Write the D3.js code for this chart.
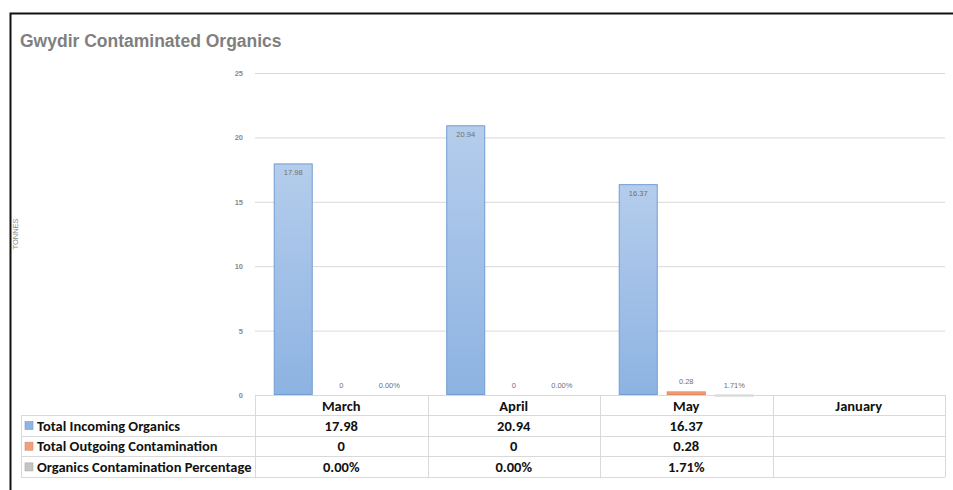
<!DOCTYPE html>
<html>
  <head>
    <meta charset="utf-8">
    <title>Gwydir Contaminated Organics</title>
    <script src="https://d3js.org/d3.v7.min.js"></script>
    <style>
      body { margin: 0; background: #fff; }
      svg { display: block; }
    </style>
  </head>
  <body>
    <script>
      // ==================
      // Data
      // ==================
      const categories = ["March", "April", "May", "January"];
      const seriesNames = ["Total Incoming Organics", "Total Outgoing Contamination", "Organics Contamination Percentage"];
      const incoming = [17.98, 20.94, 16.37, null];
      const outgoing = [0, 0, 0.28, null];
      const percentage = [0.0000, 0.0000, 0.0171, null];
      const yTicks = [0, 5, 10, 15, 20, 25];

      const width = 953;
      const height = 490;
      const plotLeft = 255;
      const plotRight = 945;
      const plotTop = 73;
      const plotBottom = 395;

      const fmtNum = function(v) { return v === 0 ? "0" : d3.format(".2f")(v); };
      const fmtPct = d3.format(".2%");

      const series = [
        {name: seriesNames[0], values: incoming, fmt: fmtNum, fill: "url(#gradBlue)", stroke: "#729dd3", key: "#8db4e2"},
        {name: seriesNames[1], values: outgoing, fmt: fmtNum, fill: "url(#gradOrange)", stroke: "#e8875a", key: "#f2a07a"},
        {name: seriesNames[2], values: percentage, fmt: fmtPct, fill: "#b3b3b3", stroke: "#999999", key: "#c4c4c4"}
      ];

      const svg = d3.select("body")
        .append("svg")
          .attr("width", width)
          .attr("height", height);

      const defs = svg.append("defs");
      function gradient(id, top, bottom) {
        const g = defs.append("linearGradient")
          .attr("id", id)
          .attr("x1", 0).attr("y1", 0).attr("x2", 0).attr("y2", 1);
        g.append("stop").attr("offset", "0%").attr("stop-color", top);
        g.append("stop").attr("offset", "100%").attr("stop-color", bottom);
      }
      gradient("gradBlue", "#b5cdec", "#8db3e2");
      gradient("gradOrange", "#f6b08f", "#ee8c60");

      // frame
      svg.append("path")
        .attr("d", "M10.5,490 V13.5 H953")
        .attr("fill", "none")
        .attr("stroke", "#111")
        .attr("stroke-width", 2);

      // title
      svg.append("text")
        .attr("x", 20)
        .attr("y", 47)
        .attr("font-family", "Liberation Sans, Arial, sans-serif")
        .attr("font-weight", "bold")
        .attr("font-size", 17.5)
        .attr("fill", "#7f7f7f")
        .text("Gwydir Contaminated Organics");

      // y axis title
      svg.append("text")
        .attr("transform", "translate(18,234) rotate(-90)")
        .attr("text-anchor", "middle")
        .attr("font-family", "Liberation Sans, Arial, sans-serif")
        .attr("font-size", 7.5)
        .attr("fill", "#8c8c8c")
        .text("TONNES");

      // ==================
      // Scales and axes
      // ==================
      const xScale = d3.scaleBand()
        .domain(categories)
        .range([plotLeft, plotRight])
        .padding(0);

      const xSub = d3.scaleBand()
        .domain(seriesNames)
        .range([0, xScale.bandwidth()])
        .paddingInner(0.1875)
        .paddingOuter(0.39);

      const yScale = d3.scaleLinear()
        .domain([0, 25])
        .range([plotBottom, plotTop]);

      const yAxis = d3.axisLeft(yScale)
        .tickValues(yTicks)
        .tickSizeInner(-(plotRight - plotLeft))
        .tickSizeOuter(0)
        .tickPadding(12);

      svg.append("g")
        .classed("y-axis", true)
        .attr("transform", "translate(" + plotLeft + ",0)")
        .call(yAxis)
        .call(function(g) {
          g.select(".domain").remove();
          g.selectAll(".tick line").attr("stroke", "#d9d9d9");
          g.selectAll(".tick text")
            .attr("font-family", "Liberation Sans, Arial, sans-serif")
            .attr("font-size", 7.5)
            .attr("font-weight", "bold")
            .attr("fill", "#8c8c8c");
        });

      // ==================
      // Bars
      // ==================
      const barLayer = svg.append("g").classed("bars", true);
      const labelLayer = svg.append("g").classed("labels", true);

      series.forEach(function(s) {
        s.values.forEach(function(v, i) {
          if (v === null) return;
          const x = xScale(categories[i]) + xSub(s.name);
          const y = yScale(v);
          const h = yScale(0) - y;
          if (h > 0) {
            barLayer.append("rect")
              .attr("x", x + 0.5)
              .attr("y", y + 0.5)
              .attr("width", xSub.bandwidth() - 1)
              .attr("height", Math.max(h - 1, 0.5))
              .attr("fill", s.fill)
              .attr("stroke", s.stroke)
              .attr("stroke-width", 1);
          }
          const inside = h > 20;
          labelLayer.append("text")
            .attr("x", x + xSub.bandwidth() / 2)
            .attr("y", inside ? y + 12 : Math.min(y, yScale(0)) - 7)
            .attr("text-anchor", "middle")
            .attr("font-family", "Liberation Sans, Arial, sans-serif")
            .attr("font-size", 7.5)
            .attr("fill", "#707070")
            .text(s.fmt(v));
        });
      });

      // ==================
      // Data table
      // ==================
      const rowTop = 395;
      const headerH = 20;
      const rowH = 20.7;
      const tableLeft = 21;
      const tableFont = "Calibri, Carlito, 'Open Sans', sans-serif";
      const tableSize = 14.5;
      const table = svg.append("g").classed("table", true);
      const lineColor = "#d9d9d9";
      const tableBottom = rowTop + headerH + rowH * series.length;

      // horizontal lines
      table.append("line")
        .attr("x1", plotLeft).attr("x2", plotRight)
        .attr("y1", rowTop + 0.5).attr("y2", rowTop + 0.5)
        .attr("stroke", lineColor);
      d3.range(series.length + 1).forEach(function(r) {
        const y = Math.round(rowTop + headerH + rowH * r) + 0.5;
        table.append("line")
          .attr("x1", tableLeft).attr("x2", plotRight)
          .attr("y1", y).attr("y2", y)
          .attr("stroke", lineColor);
      });

      // vertical lines
      table.append("line")
        .attr("x1", tableLeft + 0.5).attr("x2", tableLeft + 0.5)
        .attr("y1", rowTop + headerH).attr("y2", tableBottom)
        .attr("stroke", lineColor);
      categories.forEach(function(c) {
        const x = Math.round(xScale(c)) + 0.5;
        table.append("line")
          .attr("x1", x).attr("x2", x)
          .attr("y1", rowTop).attr("y2", tableBottom)
          .attr("stroke", lineColor);
      });
      table.append("line")
        .attr("x1", plotRight + 0.5).attr("x2", plotRight + 0.5)
        .attr("y1", rowTop).attr("y2", tableBottom)
        .attr("stroke", lineColor);

      // header
      table.selectAll("text.header")
        .data(categories)
        .enter()
        .append("text")
          .classed("header", true)
          .attr("x", function(d) { return xScale(d) + xScale.bandwidth() / 2; })
          .attr("y", rowTop + 15.5)
          .attr("text-anchor", "middle")
          .attr("font-family", tableFont)
          .attr("font-weight", "bold")
          .attr("font-size", tableSize)
          .attr("fill", "#111")
          .text(function(d) { return d; });

      // rows
      series.forEach(function(s, r) {
        const yTop = rowTop + headerH + rowH * r;
        table.append("rect")
          .attr("x", 25)
          .attr("y", yTop + 6.5)
          .attr("width", 8)
          .attr("height", 8)
          .attr("fill", s.key)
          .attr("stroke", d3.color(s.key).darker(0.4))
          .attr("stroke-width", 0.6);
        table.append("text")
          .attr("x", 37)
          .attr("y", yTop + 15.5)
          .attr("font-family", tableFont)
          .attr("font-weight", "bold")
          .attr("font-size", tableSize)
          .attr("fill", "#111")
          .text(s.name);
        s.values.forEach(function(v, i) {
          if (v === null) return;
          table.append("text")
            .attr("x", xScale(categories[i]) + xScale.bandwidth() / 2)
            .attr("y", yTop + 15.5)
            .attr("text-anchor", "middle")
            .attr("font-family", tableFont)
            .attr("font-weight", "bold")
            .attr("font-size", tableSize)
            .attr("fill", "#111")
            .text(s.fmt(v));
        });
      });
    </script>
  </body>
</html>
